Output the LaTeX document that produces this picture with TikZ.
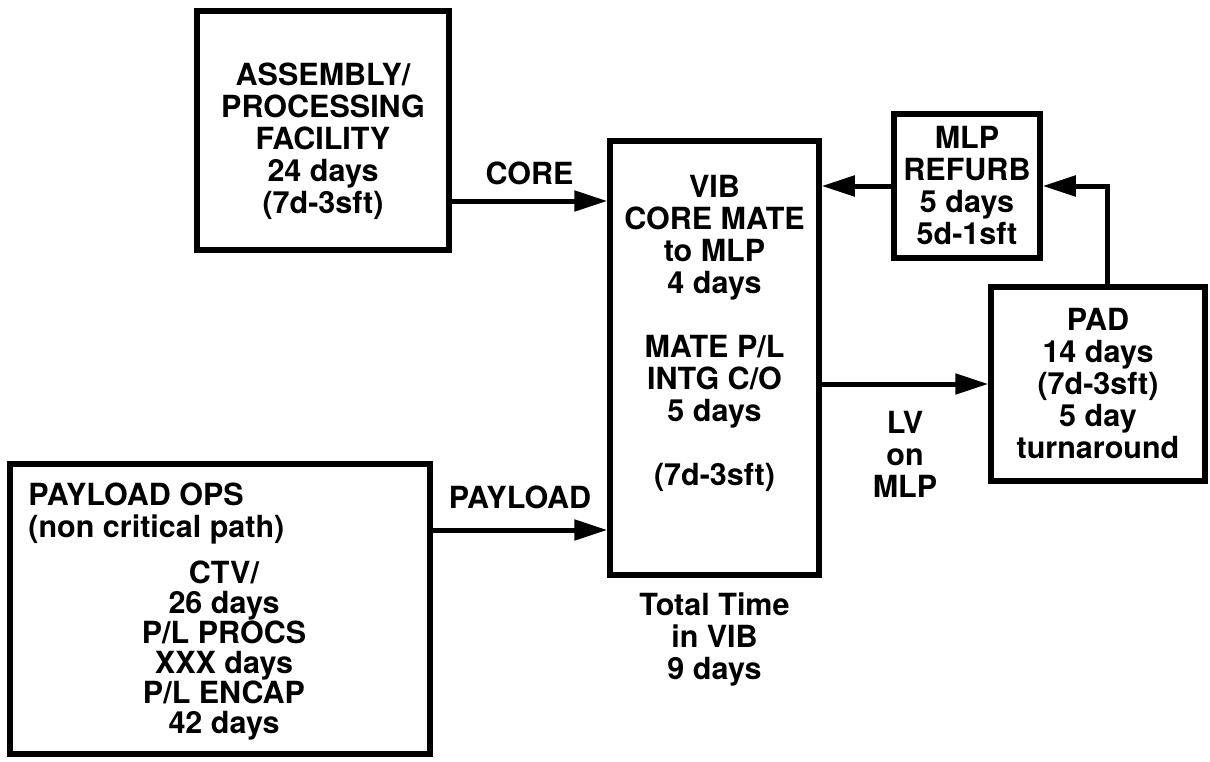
\documentclass[tikz,border=0pt]{standalone}
\usepackage{fontspec}
\setmainfont{TeX Gyre Heros}
\usepackage{tikz}
\usetikzlibrary{arrows.meta,positioning}

\begin{document}
\begin{tikzpicture}[
  x=0.5pt, y=-0.5pt,
  font=\fontsize{15.25}{16}\selectfont\bfseries,
  box/.style={rectangle, draw, line width=2.75pt, align=center, inner sep=0pt},
  txt/.style={align=center, inner sep=0pt},
  arrow/.style={-{Triangle[length=16.5pt, width=10pt]}, line width=2.5pt}
]
\useasboundingbox (0,0) rectangle (1210,761);

% Boxes
\node[box, minimum width=126pt, minimum height=119.5pt] (asm) at (323,130.5) {};
\node[txt, below=26.9pt of asm.north] (asmtext) {ASSEMBLY/\\PROCESSING\\FACILITY\\24 days\\(7d-3sft)};

\node[box, minimum width=104.5pt, minimum height=217pt] (vib) at (714.5,358) {};
\node[txt, below=18.4pt of vib.north] (vibtext) {VIB\\CORE MATE\\to MLP\\4 days\\[16pt]MATE P/L\\INTG C/O\\5 days\\[16pt](7d-3sft)};

\node[box, minimum width=73pt, minimum height=72pt] (mlp) at (967,186) {MLP\\REFURB\\5 days\\5d-1sft};
\node[box, minimum width=107pt, minimum height=97pt] (pad) at (1098,384) {PAD\\14 days\\(7d-3sft)\\5 day\\turnaround};

\node[box, minimum width=210pt, minimum height=145pt] (pay) at (220,609) {};
\node[txt, align=left, below right=10.4pt and 10.4pt of pay.north west] (paytop) {PAYLOAD OPS\\(non critical path)};
\node[txt, font=\fontsize{15.25}{15}\selectfont\bfseries, below=49.4pt of pay.north, xshift=2pt] (paybottom) {CTV/\\26 days\\P/L PROCS\\XXX days\\P/L ENCAP\\42 days};

% Arrows
\coordinate (corestart) at ([yshift=-35.25pt]asm.east);
\coordinate (paystart) at ([yshift=39.5pt]pay.east);
\draw[arrow] (corestart) -- (corestart -| vib.west) coordinate[pos=0.5] (coremid);
\draw[arrow] (paystart) -- (paystart -| vib.west) coordinate[pos=0.5] (paymid);
\draw[arrow] (mlp.west) -- (mlp.west -| vib.east);
\draw[arrow] (vib.east |- pad.west) -- (pad.west) coordinate[pos=0.5] (lvmid);
\draw[arrow] ([xshift=4.5pt]pad.north) |- (mlp.east);

% Labels
\node[txt, above=8pt of coremid] (corelbl) {CORE};
\node[txt, above=10.5pt of paymid] (paylbl) {PAYLOAD};
\node[txt, below=13.5pt of lvmid] (lvlbl) {LV\\on\\MLP};
\node[txt, below=7.5pt of vib] (totallbl) {Total Time\\in VIB\\9 days};

\end{tikzpicture}
\end{document}
